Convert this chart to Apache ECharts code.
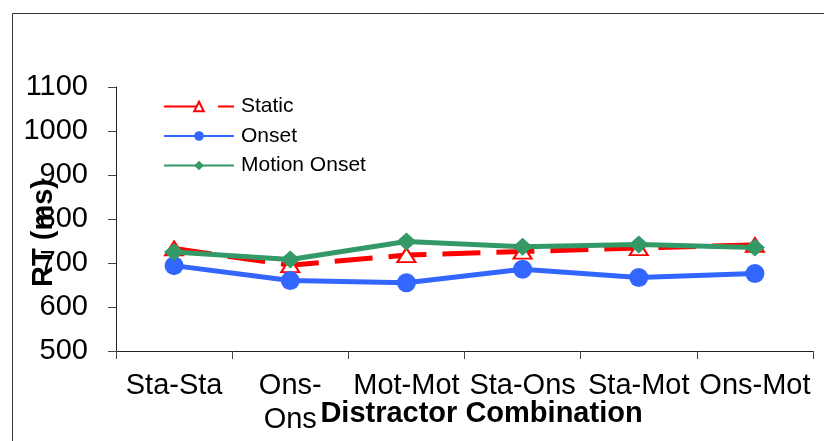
<!DOCTYPE html>
<html>
<head>
<meta charset="utf-8">
<script src="https://cdn.jsdelivr.net/npm/echarts@6/dist/echarts.min.js"></script>
<style>
  html, body { margin: 0; padding: 0; background: #ffffff; }
  #chart { width: 824px; height: 441px; }
</style>
</head>
<body>
<div id="chart"></div>
<script>
// Mean response time (ms) per distractor combination
const categories = ['Sta-Sta', 'Ons-Ons', 'Mot-Mot', 'Sta-Ons', 'Sta-Mot', 'Ons-Mot'];
const staticRT = [733, 695, 718, 726, 734, 741];
const onsetRT = [694, 660, 655, 686, 667, 676];
const motionOnsetRT = [725, 708, 749, 737, 742, 735];
const seriesNames = ['Static', 'Onset', 'Motion Onset'];
const yTicks = { min: 500, max: 1100, step: 100 };

const FONT = '"Liberation Sans", Arial, sans-serif';
const LABEL_SIZE = 29;

const grid = { left: 116, right: 11, top: 87, bottom: 90 };
const bandWidth = (824 - grid.left - grid.right) / categories.length;

// Wrap a category label after its hyphen when it does not fit in its band
const measure = document.createElement('canvas').getContext('2d');
measure.font = LABEL_SIZE + 'px ' + FONT;
function wrapLabel(text) {
  if (measure.measureText(text).width <= bandWidth - 2) return text;
  const cut = text.indexOf('-');
  return cut >= 0 ? text.slice(0, cut + 1) + '\n' + text.slice(cut + 1) : text;
}

const chart = echarts.init(document.getElementById('chart'), null, { renderer: 'canvas' });

chart.setOption({
  backgroundColor: '#ffffff',
  animation: false,
  textStyle: { fontFamily: FONT },
  graphic: [{
    type: 'rect',
    shape: { x: 12.5, y: 13.5, width: 1000, height: 600 },
    style: { fill: 'none', stroke: '#333333', lineWidth: 1 },
    silent: true,
    z: -1
  }],
  grid: Object.assign({ outerBoundsMode: 'none' }, grid),
  legend: {
    orient: 'vertical',
    left: 163,
    top: 96,
    padding: 0,
    itemWidth: 70,
    itemHeight: 12,
    itemGap: 8.5,
    textStyle: { fontFamily: FONT, fontSize: 21, color: '#000000', padding: [0, 0, 0, 2] },
    data: seriesNames
  },
  xAxis: {
    type: 'category',
    data: categories,
    boundaryGap: true,
    name: 'Distractor Combination',
    nameLocation: 'middle',
    nameGap: 48,
    nameMoveOverlap: false,
    nameTextStyle: {
      fontFamily: FONT, fontSize: LABEL_SIZE, fontWeight: 'bold', color: '#000000',
      padding: [0, 0, 0, 34]
    },
    axisLine: { lineStyle: { color: '#222222', width: 1 } },
    axisTick: { show: true, inside: false, length: 8, alignWithLabel: false, lineStyle: { color: '#444444' } },
    axisLabel: {
      interval: 0,
      margin: 18,
      fontFamily: FONT,
      fontSize: LABEL_SIZE,
      lineHeight: 34,
      color: '#000000',
      formatter: wrapLabel
    },
    splitLine: { show: false }
  },
  yAxis: {
    type: 'value',
    min: yTicks.min,
    max: yTicks.max,
    interval: yTicks.step,
    name: 'RT (ms)',
    nameLocation: 'middle',
    nameGap: 58,
    nameRotate: 90,
    nameMoveOverlap: false,
    nameTextStyle: {
      fontFamily: FONT, fontSize: LABEL_SIZE, fontWeight: 'bold', color: '#000000',
      padding: [0, 28, 0, 0]
    },
    axisLine: { show: true, lineStyle: { color: '#222222', width: 1 } },
    axisTick: { show: true, inside: false, length: 8, lineStyle: { color: '#444444' } },
    axisLabel: {
      margin: 28, fontFamily: FONT, fontSize: LABEL_SIZE, color: '#000000',
      formatter: v => String(v)
    },
    splitLine: { show: false }
  },
  series: [
    {
      name: seriesNames[0],
      type: 'line',
      data: staticRT,
      symbol: 'triangle',
      symbolSize: [18, 14],
      showAllSymbol: true,
      lineStyle: { color: '#ff0000', width: 5, type: [38, 16] },
      itemStyle: { color: '#ffffff', borderColor: '#ff0000', borderWidth: 2 },
      z: 2
    },
    {
      name: seriesNames[1],
      type: 'line',
      data: onsetRT,
      symbol: 'circle',
      symbolSize: 19,
      lineStyle: { color: '#3366ff', width: 5 },
      itemStyle: { color: '#3366ff' },
      z: 3
    },
    {
      name: seriesNames[2],
      type: 'line',
      data: motionOnsetRT,
      symbol: 'diamond',
      symbolSize: [20, 18],
      lineStyle: { color: '#339966', width: 5 },
      itemStyle: { color: '#339966' },
      z: 4
    }
  ]
});
</script>
</body>
</html>
